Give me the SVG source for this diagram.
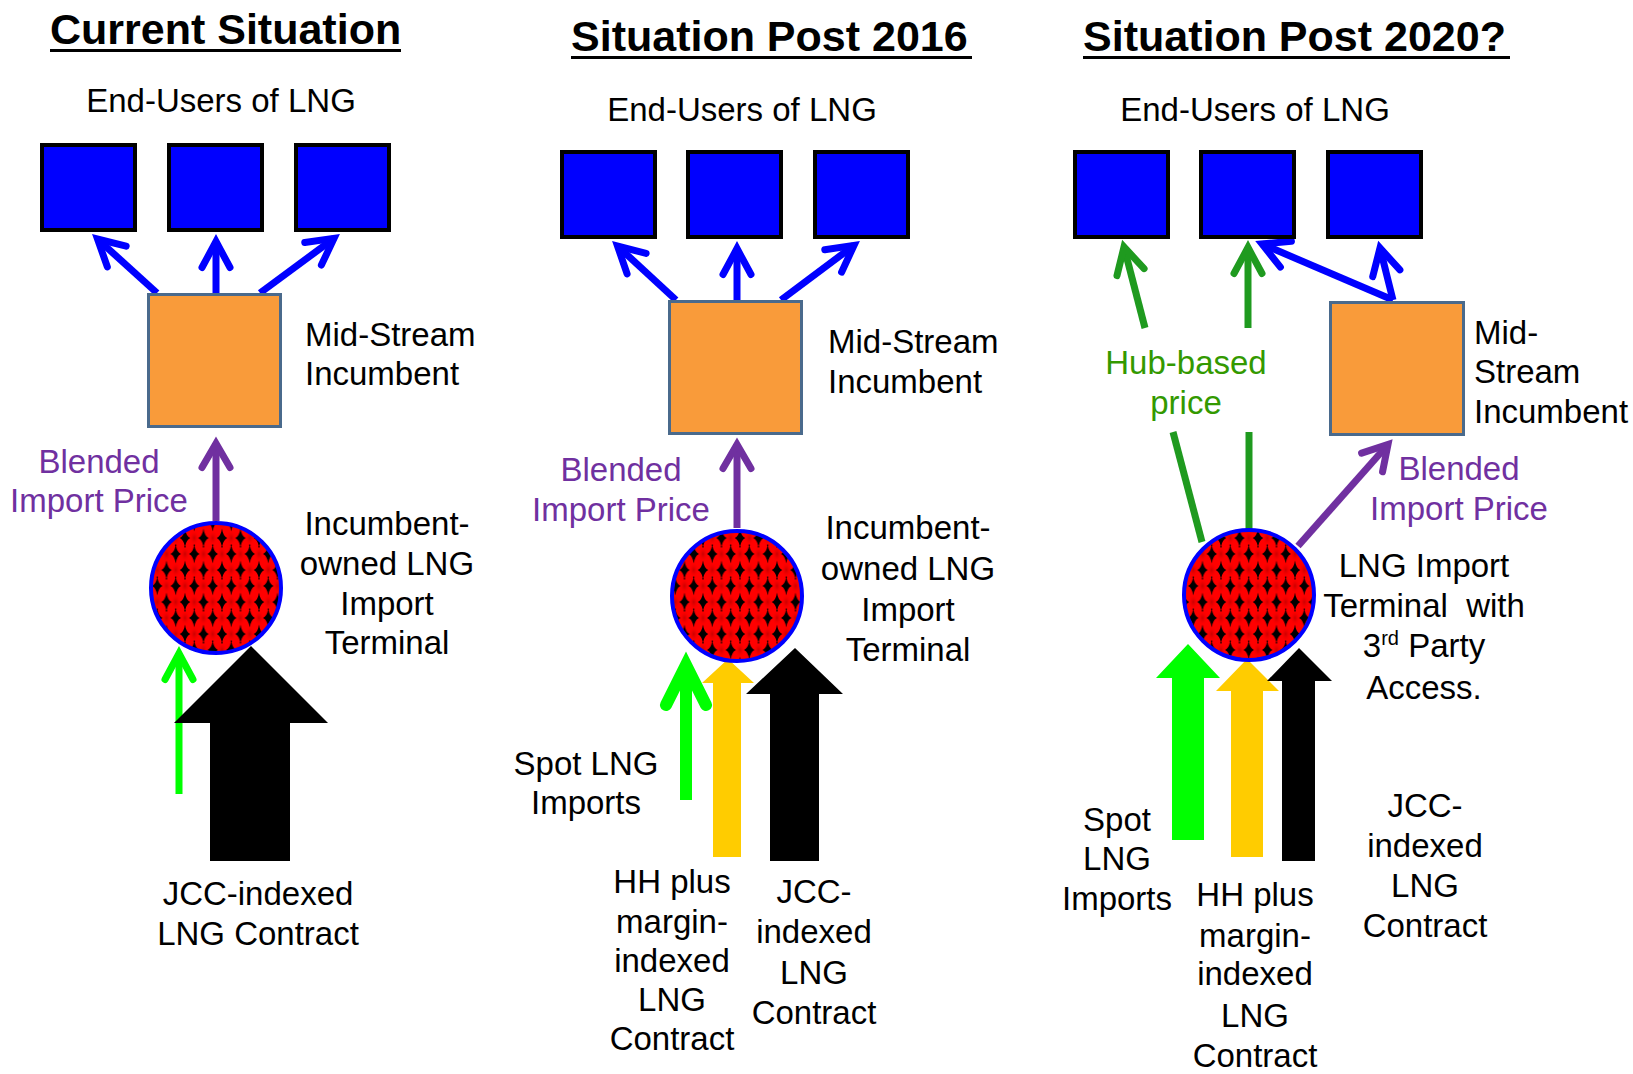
<svg xmlns="http://www.w3.org/2000/svg" width="1633" height="1074" viewBox="0 0 1633 1074">
<style>
.txt{font-family:"Liberation Sans",Arial,sans-serif;font-size:33px;fill:#000}
.ttl{font-family:"Liberation Sans",Arial,sans-serif;font-size:43px;font-weight:bold;fill:#000}
.mid{text-anchor:middle}
.pur{fill:#7030A0}
.hub{fill:#339900}
.eu{fill:#0000FF;stroke:#000;stroke-width:4}
.ms{fill:#F99B3A;stroke:#4A6A8C;stroke-width:3}
.term{fill:url(#dia);stroke:#0000FF;stroke-width:4}
.ln{fill:none;stroke-linecap:butt}
.bl{stroke:#0000FF;stroke-width:7}
.pu{stroke:#7030A0;stroke-width:7}
.gr{stroke:#00FF00;stroke-width:7}
.gk{stroke:#00FF00;stroke-width:12}
.dg{stroke:#1F9A1F;stroke-width:7}
.ul{fill:#000}
</style>
<defs>
<radialGradient id="rg">
<stop offset="0" stop-color="#C00000" stop-opacity="0.85"/>
<stop offset="1" stop-color="#FF0000" stop-opacity="0"/>
</radialGradient>
<pattern id="dia" patternUnits="userSpaceOnUse" width="18.5" height="32" x="0" y="2">
<rect width="18.5" height="32" fill="#FF0000"/>
<ellipse cx="0" cy="8" rx="5" ry="8" fill="url(#rg)"/>
<ellipse cx="18.5" cy="8" rx="5" ry="8" fill="url(#rg)"/>
<ellipse cx="9.25" cy="24" rx="5" ry="8" fill="url(#rg)"/>
<path d="M9.25,-1.5 Q10.2,6 14.5,8 Q10.2,10 9.25,17.5 Q8.3,10 4,8 Q8.3,6 9.25,-1.5Z" fill="#000"/>
<path d="M9.25,30.5 L9.25,33.5" stroke="#000" stroke-width="1.2"/>
<path d="M0,14.5 Q0.95,22 5.25,24 Q0.95,26 0,33.5 Q-0.95,26 -5.25,24 Q-0.95,22 0,14.5Z" fill="#000"/>
<path d="M18.5,14.5 Q19.45,22 23.75,24 Q19.45,26 18.5,33.5 Q17.55,26 13.25,24 Q17.55,22 18.5,14.5Z" fill="#000"/>
<path d="M0,-1.5 L0,1.5" stroke="#000" stroke-width="1.2"/>
<path d="M18.5,-1.5 L18.5,1.5" stroke="#000" stroke-width="1.2"/>
</pattern>
<marker id="mBl" markerUnits="userSpaceOnUse" orient="auto" overflow="visible" refX="0" refY="0" markerWidth="40" markerHeight="40">
<path d="M-26,-14 L0,0 L-26,14" fill="none" stroke="#0000FF" stroke-width="7" stroke-linecap="round"/>
</marker>
<marker id="mPu" markerUnits="userSpaceOnUse" orient="auto" overflow="visible" refX="0" refY="0" markerWidth="40" markerHeight="40">
<path d="M-24,-14 L0,0 L-24,14" fill="none" stroke="#7030A0" stroke-width="7" stroke-linecap="round"/>
</marker>
<marker id="mGr" markerUnits="userSpaceOnUse" orient="auto" overflow="visible" refX="0" refY="0" markerWidth="40" markerHeight="40">
<path d="M-26,-14 L0,0 L-26,14" fill="none" stroke="#00FF00" stroke-width="7" stroke-linecap="round"/>
</marker>
<marker id="mGk" markerUnits="userSpaceOnUse" orient="auto" overflow="visible" refX="0" refY="0" markerWidth="60" markerHeight="60">
<path d="M-40,-20 L0,0 L-40,20" fill="none" stroke="#00FF00" stroke-width="12" stroke-linecap="round"/>
</marker>
<marker id="mDg" markerUnits="userSpaceOnUse" orient="auto" overflow="visible" refX="0" refY="0" markerWidth="40" markerHeight="40">
<path d="M-26,-14 L0,0 L-26,14" fill="none" stroke="#1F9A1F" stroke-width="7" stroke-linecap="round"/>
</marker>
</defs>
<rect width="1633" height="1074" fill="#fff"/>

<g id="titles">
<text class="ttl" x="50" y="44">Current Situation</text>
<rect class="ul" x="50" y="49" width="351" height="3"/>
<text class="ttl" x="571" y="51">Situation Post 2016</text>
<rect class="ul" x="571" y="56" width="401" height="3"/>
<text class="ttl" x="1083" y="51">Situation Post 2020?</text>
<rect class="ul" x="1083" y="56" width="427" height="3"/>
</g>

<g id="connectors">
<!-- panel 1 -->
<path class="ln bl" d="M157,293 L97.5,239" marker-end="url(#mBl)"/>
<path class="ln bl" d="M216,293 L216,241.5" marker-end="url(#mBl)"/>
<path class="ln bl" d="M260,293 L334,238.4" marker-end="url(#mBl)"/>
<path class="ln pu" d="M216,521 L216,443.5" marker-end="url(#mPu)"/>
<path class="ln gr" d="M179,794 L179,653.5" marker-end="url(#mGr)"/>
<polygon points="210,861 210,723 174,723 251,646 328,723 290,723 290,861" fill="#000"/>
<!-- panel 2 -->
<path class="ln bl" d="M676,300 L617.5,246" marker-end="url(#mBl)"/>
<path class="ln bl" d="M737,300 L737,248.5" marker-end="url(#mBl)"/>
<path class="ln bl" d="M781,300 L854,245.4" marker-end="url(#mBl)"/>
<path class="ln pu" d="M737,528 L737,444.5" marker-end="url(#mPu)"/>
<path class="ln gk" d="M686,800 L686,665" marker-end="url(#mGk)"/>
<polygon points="713,857 713,683 702,683 728,659 754,683 741,683 741,857" fill="#FFCC00"/>
<polygon points="770,861 770,694 746,694 795,648 843,694 819,694 819,861" fill="#000"/>
<!-- panel 3 -->
<path class="ln dg" d="M1145,328 L1124,247" marker-end="url(#mDg)"/>
<path class="ln dg" d="M1248,328 L1248,247.5" marker-end="url(#mDg)"/>
<path class="ln dg" d="M1173,432 L1202,542"/>
<path class="ln dg" d="M1249,432 L1249,529"/>
<path class="ln bl" d="M1393,300 L1262,244" marker-end="url(#mBl)"/>
<path class="ln bl" d="M1393,300 L1380,248" marker-end="url(#mBl)"/>
<path class="ln pu" d="M1298,546 L1388,444.5" marker-end="url(#mPu)"/>
<polygon points="1172,840 1172,678 1156,678 1188,644 1220,678 1204,678 1204,840" fill="#00FF00"/>
<polygon points="1231,857 1231,691 1216,691 1247,659 1279,691 1263,691 1263,857" fill="#FFCC00"/>
<polygon points="1282,861 1282,681 1267,681 1299,648 1332,681 1315,681 1315,861" fill="#000"/>
</g>

<g id="p1-endusers">
<text class="txt mid" x="221" y="112">End-Users of LNG</text>
<rect class="eu" x="42" y="145" width="93" height="85"/>
<rect class="eu" x="169" y="145" width="93" height="85"/>
<rect class="eu" x="296" y="145" width="93" height="85"/>
</g>
<g id="p1-midstream">
<rect class="ms" x="148.5" y="294.5" width="132" height="132"/>
<text class="txt" x="305" y="346">Mid-Stream<tspan x="305" y="385">Incumbent</tspan></text>
</g>
<g id="p1-terminal">
<circle class="term" cx="216" cy="588" r="65"/>
<text class="txt mid" x="387" y="535">Incumbent-<tspan x="387" y="575">owned LNG</tspan><tspan x="387" y="615">Import</tspan><tspan x="387" y="654">Terminal</tspan></text>
</g>
<g id="p1-labels">
<text class="txt mid pur" x="99" y="473">Blended<tspan x="99" y="512">Import Price</tspan></text>
<text class="txt mid" x="258" y="905">JCC-indexed<tspan x="258" y="945">LNG Contract</tspan></text>
</g>

<g id="p2-endusers">
<text class="txt mid" x="742" y="121">End-Users of LNG</text>
<rect class="eu" x="562" y="152" width="93" height="85"/>
<rect class="eu" x="688" y="152" width="93" height="85"/>
<rect class="eu" x="815" y="152" width="93" height="85"/>
</g>
<g id="p2-midstream">
<rect class="ms" x="669.5" y="301.5" width="132" height="132"/>
<text class="txt" x="828" y="353">Mid-Stream<tspan x="828" y="393">Incumbent</tspan></text>
</g>
<g id="p2-terminal">
<circle class="term" cx="737" cy="596" r="65"/>
<text class="txt mid" x="908" y="539">Incumbent-<tspan x="908" y="580">owned LNG</tspan><tspan x="908" y="621">Import</tspan><tspan x="908" y="661">Terminal</tspan></text>
</g>
<g id="p2-labels">
<text class="txt mid pur" x="621" y="481">Blended<tspan x="621" y="521">Import Price</tspan></text>
<text class="txt mid" x="586" y="775">Spot LNG<tspan x="586" y="814">Imports</tspan></text>
<text class="txt mid" x="672" y="893">HH plus<tspan x="672" y="933">margin-</tspan><tspan x="672" y="972">indexed</tspan><tspan x="672" y="1011">LNG</tspan><tspan x="672" y="1050">Contract</tspan></text>
<text class="txt mid" x="814" y="903">JCC-<tspan x="814" y="943">indexed</tspan><tspan x="814" y="984">LNG</tspan><tspan x="814" y="1024">Contract</tspan></text>
</g>

<g id="p3-endusers">
<text class="txt mid" x="1255" y="121">End-Users of LNG</text>
<rect class="eu" x="1075" y="152" width="93" height="85"/>
<rect class="eu" x="1201" y="152" width="93" height="85"/>
<rect class="eu" x="1328" y="152" width="93" height="85"/>
</g>
<g id="p3-midstream">
<rect class="ms" x="1330.5" y="302.5" width="133" height="132"/>
<text class="txt" x="1474" y="344">Mid-<tspan x="1474" y="383">Stream</tspan><tspan x="1474" y="423">Incumbent</tspan></text>
</g>
<g id="p3-terminal">
<circle class="term" cx="1249" cy="595" r="65"/>
<text class="txt mid" x="1424" y="577">LNG Import<tspan x="1424" y="617">Terminal&#160; with</tspan><tspan x="1424" y="657">3<tspan font-size="20" dy="-12">rd</tspan><tspan dy="12"> Party</tspan></tspan><tspan x="1424" y="699">Access.</tspan></text>
</g>
<g id="p3-labels">
<text class="txt mid hub" x="1186" y="374">Hub-based<tspan x="1186" y="414">price</tspan></text>
<text class="txt mid pur" x="1459" y="480">Blended<tspan x="1459" y="520">Import Price</tspan></text>
<text class="txt mid" x="1117" y="831">Spot<tspan x="1117" y="870">LNG</tspan><tspan x="1117" y="910">Imports</tspan></text>
<text class="txt mid" x="1255" y="906">HH plus<tspan x="1255" y="947">margin-</tspan><tspan x="1255" y="985">indexed</tspan><tspan x="1255" y="1027">LNG</tspan><tspan x="1255" y="1067">Contract</tspan></text>
<text class="txt mid" x="1425" y="817">JCC-<tspan x="1425" y="857">indexed</tspan><tspan x="1425" y="897">LNG</tspan><tspan x="1425" y="937">Contract</tspan></text>
</g>
</svg>
